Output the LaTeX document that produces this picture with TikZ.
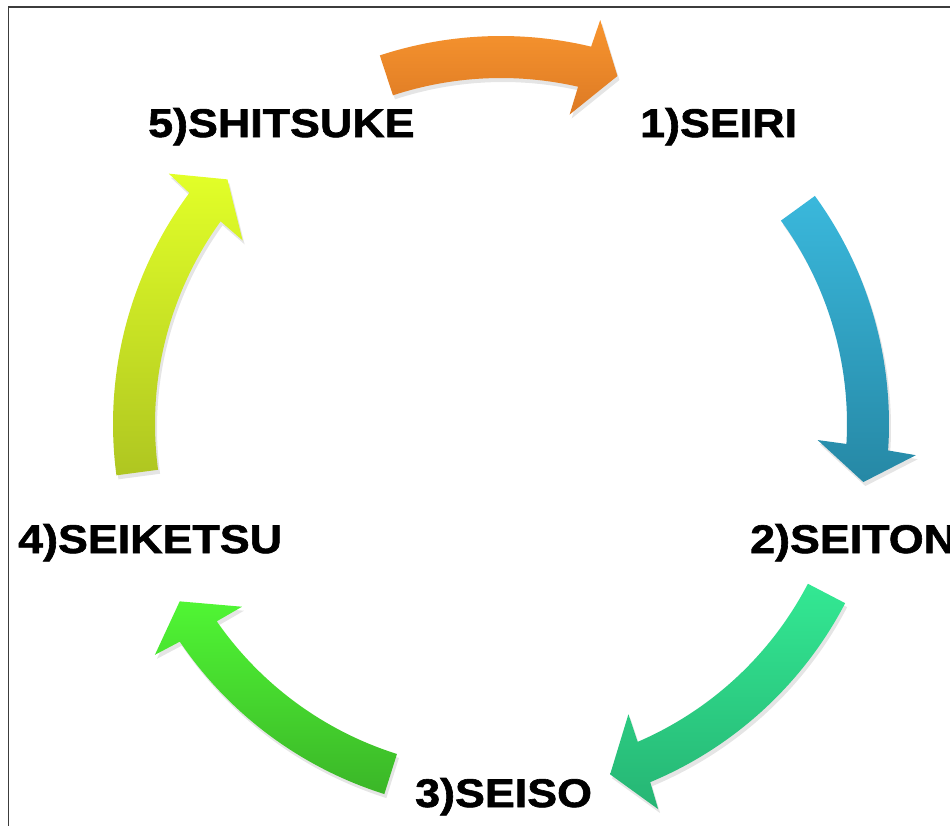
\documentclass[tikz,border=0pt]{standalone}
\usepackage{fontspec}
\newfontfamily\labfont{Liberation Sans Bold}[FakeStretch=1.12,FakeBold=1.5]
\definecolor{orT}{HTML}{F8952F}\definecolor{orB}{HTML}{DD7A24}
\definecolor{blT}{HTML}{3AB8DC}\definecolor{blB}{HTML}{2688A5}
\definecolor{tlT}{HTML}{33E893}\definecolor{tlB}{HTML}{26B574}
\definecolor{grT}{HTML}{50F634}\definecolor{grB}{HTML}{3BB628}
\definecolor{ylT}{HTML}{E2FF28}\definecolor{ylB}{HTML}{AFC621}
\definecolor{frame}{HTML}{3C3C3C}
\tikzset{
  lab/.style={anchor=base west,inner sep=0pt,font=\labfont\fontsize{40}{48}\selectfont,text=black},
  shadowfill/.style={fill=black,opacity=0.10}
}
% #1 tail, #2 tip, #3 inner barb, #4 outer barb (image angles, clockwise), #5 top colour, #6 bottom colour
\newcommand\cycarrow[6]{%
  \pgfmathsetmacro\aT{-#1}\pgfmathsetmacro\aP{-#2}%
  \pgfmathsetmacro\aBi{-#3}\pgfmathsetmacro\aBo{-#4}%
  \pgfmathsetmacro\aNi{\aBi+0.29*(\aBo-\aBi)}\pgfmathsetmacro\aNo{\aBi+0.72*(\aBo-\aBi)}%
  \fill[shadowfill,shift={(2,-4)}] (\aT:388) arc[start angle=\aT,end angle=\aNo,radius=388] -- (\aBo:416) -- (\aP:367) -- (\aBi:317) -- (\aNi:346) arc[start angle=\aNi,end angle=\aT,radius=346] -- cycle;
  \shade[top color=#5,bottom color=#6] (\aT:388) arc[start angle=\aT,end angle=\aNo,radius=388] -- (\aBo:416) -- (\aP:367) -- (\aBi:317) -- (\aNi:346) arc[start angle=\aNi,end angle=\aT,radius=346] -- cycle;
}
\begin{document}
\begin{tikzpicture}[x=1pt,y=1pt]
\useasboundingbox (0,0) rectangle (950,-825);
\clip (0,0) rectangle (950,-825);
\fill[white] (0,0) rectangle (950,-825);
\draw[frame,line width=1.5pt] (8.5,-840) -- (8.5,-7) -- (960,-7);
\begin{scope}[shift={(501,-424)}]
  \cycarrow{-108.2}{-71.5}{-77.5}{-76.2}{orT}{orB}
  \cycarrow{-36.0}{9.1}{2.9}{4.3}{blT}{blB}
  \cycarrow{27.5}{72.7}{66.3}{67.8}{tlT}{tlB}
  \cycarrow{107.5}{151.1}{144.8}{146.3}{grT}{grB}
  \cycarrow{172.4}{221.8}{215.4}{217.0}{ylT}{ylB}
\end{scope}
\node[lab] (seiri) at (640,-137) {1)SEIRI};
\node[lab] (seiton) at (750,-553) {2)SEITON};
\node[lab] (seiso) at (415,-807) {3)SEISO};
\node[lab] (seiketsu) at (18,-553) {4)SEIKETSU};
\node[lab] (shitsuke) at (148,-137) {5)SHITSUKE};
\end{tikzpicture}
\end{document}
